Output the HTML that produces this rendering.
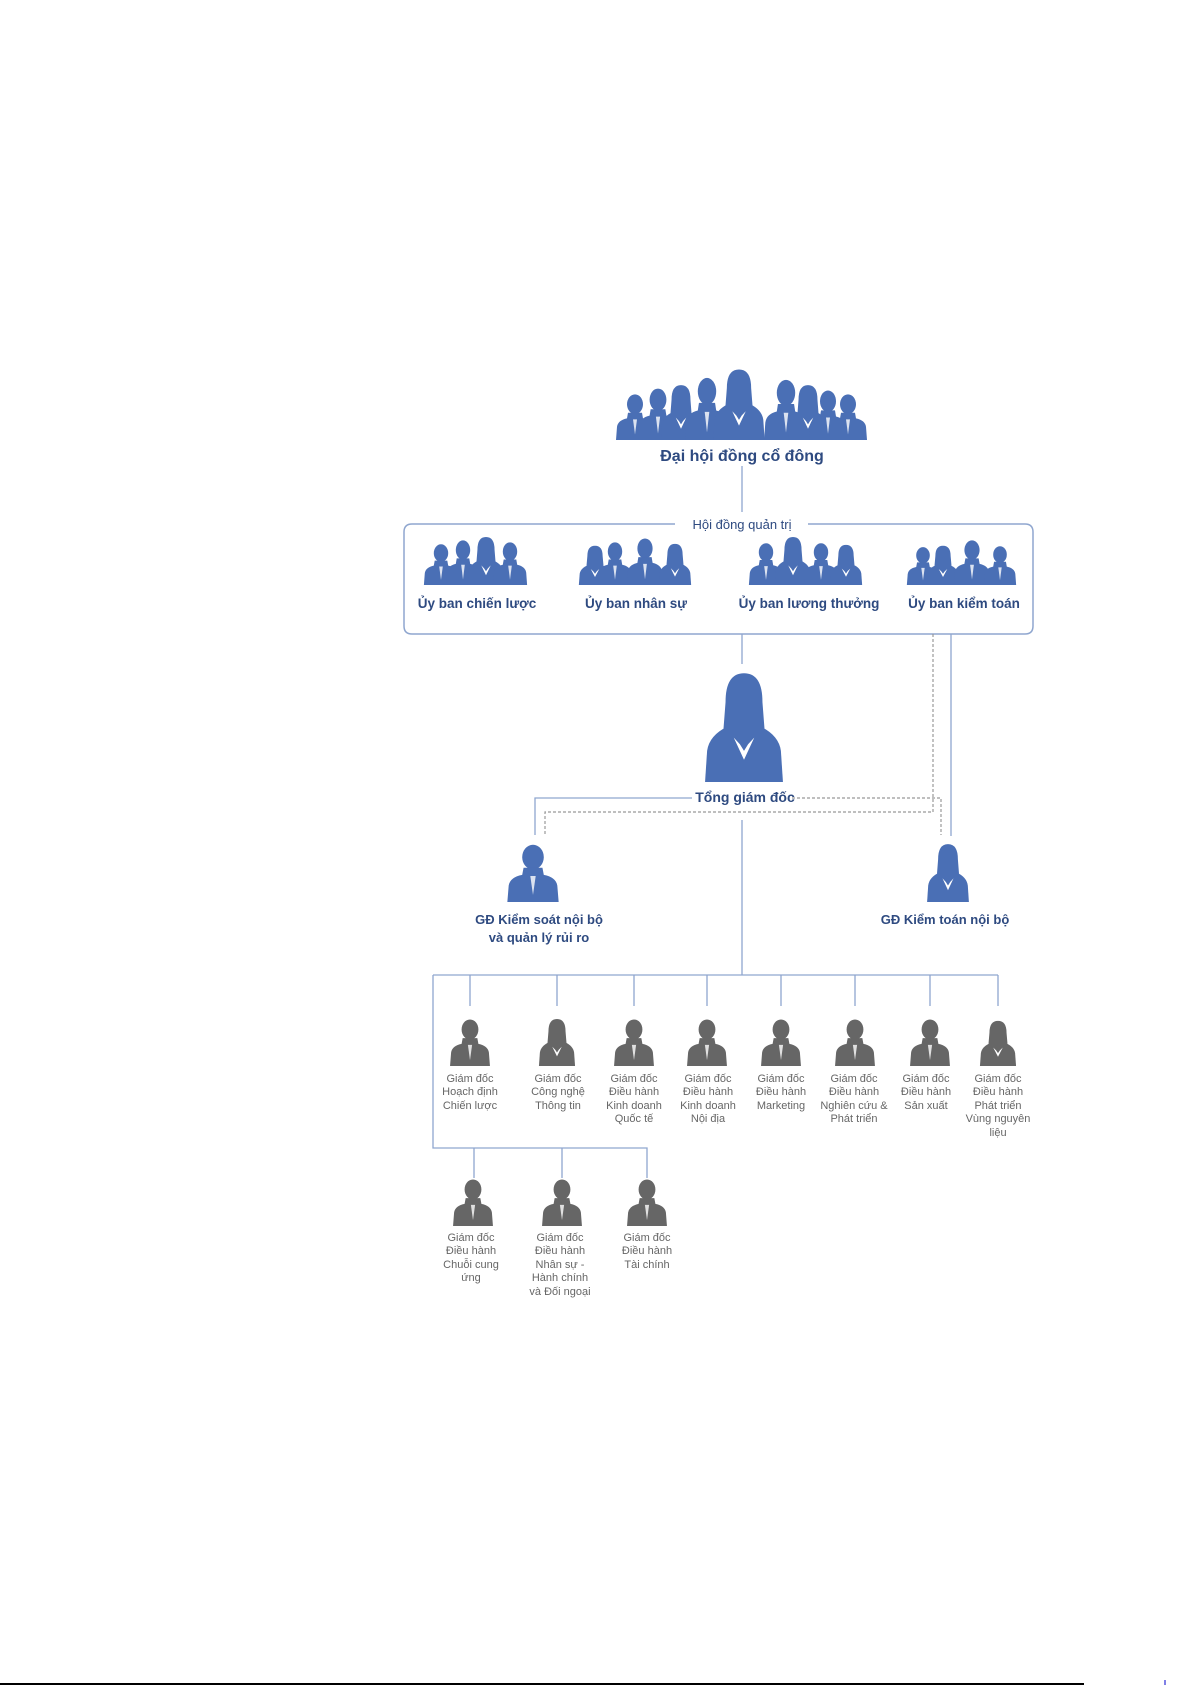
<!DOCTYPE html>
<html><head><meta charset="utf-8"><style>
html,body{margin:0;padding:0;background:#fff}
svg{display:block}
.b{font-family:"Liberation Sans",sans-serif;font-weight:bold;fill:#2e4a80;text-anchor:middle}
.g{font-family:"Liberation Sans",sans-serif;fill:#666;font-size:11px;text-anchor:middle}
</style></head><body>
<svg width="1192" height="1685" viewBox="0 0 1192 1685" xmlns="http://www.w3.org/2000/svg">
<defs>
<symbol id="m" viewBox="0 0 40 50" overflow="visible" preserveAspectRatio="none">
<ellipse cx="20" cy="12" rx="8" ry="10.5"/>
<path d="M13 21 L27 21 L28 27 Q37 29 38 36 L39 50 L1 50 L2 36 Q3 29 12 27 Z"/>
<path d="M18 28 L20 44 L22 28 Z" fill="#fff" opacity="0.8"/>
</symbol>
<symbol id="f" viewBox="0 0 40 50" overflow="visible" preserveAspectRatio="none">
<path d="M20 1 Q29 1 29 14 L30 26 L10 26 L11 14 Q11 1 20 1 Z"/>
<path d="M12 25 L28 25 Q37 29 38 36 L39 50 L1 50 L2 36 Q3 29 12 25 Z"/>
<path d="M15 30 L20 40 L25 30 L22 33 L20 36 L18 33 Z" fill="#fff"/>
</symbol>
</defs>

<g fill="#4a6fb5">
<use href="#m" x="615" y="393" width="40" height="47"/>
<use href="#m" x="637" y="387" width="42" height="53"/>
<use href="#f" x="660" y="384" width="42" height="56"/>
<use href="#m" x="684" y="376" width="46" height="64"/>
<use href="#m" x="763" y="378" width="46" height="62"/>
<use href="#f" x="787" y="384" width="42" height="56"/>
<use href="#m" x="808" y="389" width="40" height="51"/>
<use href="#m" x="828" y="393" width="40" height="47"/>
<use href="#f" x="712" y="368" width="54" height="72"/>
</g>
<text class="b" x="742" y="461" font-size="16">Đại hội đồng cổ đông</text>
<line x1="742" y1="466" x2="742" y2="512" stroke="#8fa6cf" stroke-width="1.3"/>

<path d="M675 524 L412 524 Q404 524 404 532 L404 626 Q404 634 412 634 L1025 634 Q1033 634 1033 626 L1033 532 Q1033 524 1025 524 L808 524" fill="none" stroke="#8fa6cf" stroke-width="1.5"/>
<text class="b" x="742" y="529" font-size="13" style="font-weight:normal">Hội đồng quản trị</text>

<g fill="#4a6fb5">
<use href="#m" x="423" y="543" width="36" height="42"/>
<use href="#m" x="445" y="539" width="36" height="46"/>
<use href="#f" x="467" y="536" width="38" height="49"/>
<use href="#m" x="492" y="541" width="36" height="44"/>
<use href="#f" x="578" y="545" width="34" height="40"/>
<use href="#m" x="597" y="541" width="36" height="44"/>
<use href="#m" x="626" y="537" width="38" height="48"/>
<use href="#f" x="658" y="543" width="34" height="42"/>
<use href="#m" x="748" y="542" width="36" height="43"/>
<use href="#f" x="774" y="536" width="38" height="49"/>
<use href="#m" x="803" y="542" width="36" height="43"/>
<use href="#f" x="829" y="544" width="34" height="41"/>
<use href="#m" x="906" y="546" width="34" height="39"/>
<use href="#f" x="926" y="545" width="34" height="40"/>
<use href="#m" x="953" y="539" width="38" height="46"/>
<use href="#m" x="983" y="545" width="34" height="40"/>
</g>
<g class="b" font-size="13.5">
<text x="477" y="608">Ủy ban chiến lược</text>
<text x="636" y="608">Ủy ban nhân sự</text>
<text x="809" y="608">Ủy ban lương thưởng</text>
<text x="964" y="608">Ủy ban kiểm toán</text>
</g>

<line x1="742" y1="634" x2="742" y2="664" stroke="#8fa6cf" stroke-width="1.3"/>
<use href="#f" x="703" y="671" width="82" height="111" fill="#4a6fb5"/>
<text class="b" x="745" y="802" font-size="14">Tổng giám đốc</text>

<g fill="none" stroke="#8fa6cf" stroke-width="1.3">
<polyline points="692,798 535,798 535,835"/>
<line x1="951" y1="634" x2="951" y2="836"/>
<line x1="742" y1="820" x2="742" y2="975"/>
<polyline points="433,975 998,975"/>
<line x1="470" y1="975" x2="470" y2="1006"/>
<line x1="557" y1="975" x2="557" y2="1006"/>
<line x1="634" y1="975" x2="634" y2="1006"/>
<line x1="707" y1="975" x2="707" y2="1006"/>
<line x1="781" y1="975" x2="781" y2="1006"/>
<line x1="855" y1="975" x2="855" y2="1006"/>
<line x1="930" y1="975" x2="930" y2="1006"/>
<line x1="998" y1="975" x2="998" y2="1006"/>
<polyline points="433,975 433,1148 647,1148 647,1178"/>
<line x1="474" y1="1148" x2="474" y2="1178"/>
<line x1="562" y1="1148" x2="562" y2="1178"/>
</g>
<g fill="none" stroke="#999" stroke-width="1.2" stroke-dasharray="3,2">
<polyline points="933,634 933,812 545,812 545,834"/>
<polyline points="792,798 941,798 941,835"/>
</g>

<use href="#m" x="506" y="843" width="54" height="59" fill="#4a6fb5"/>
<use href="#f" x="926" y="843" width="44" height="59" fill="#4a6fb5"/>
<text class="b" x="539" y="924" font-size="13">GĐ Kiểm soát nội bộ</text>
<text class="b" x="539" y="942" font-size="13">và quản lý rủi ro</text>
<text class="b" x="945" y="924" font-size="13">GĐ Kiểm toán nội bộ</text>

<g fill="#666">
<use href="#m" x="449" y="1018" width="42" height="48"/>
<use href="#f" x="538" y="1018" width="38" height="48"/>
<use href="#m" x="613" y="1018" width="42" height="48"/>
<use href="#m" x="686" y="1018" width="42" height="48"/>
<use href="#m" x="760" y="1018" width="42" height="48"/>
<use href="#m" x="834" y="1018" width="42" height="48"/>
<use href="#m" x="909" y="1018" width="42" height="48"/>
<use href="#f" x="979" y="1020" width="38" height="46"/>
<use href="#m" x="452" y="1178" width="42" height="48"/>
<use href="#m" x="541" y="1178" width="42" height="48"/>
<use href="#m" x="626" y="1178" width="42" height="48"/>
</g>
<g class="g">
<text x="470" y="1082">Giám đốc</text><text x="470" y="1095">Hoạch định</text><text x="470" y="1109">Chiến lược</text>
<text x="558" y="1082">Giám đốc</text><text x="558" y="1095">Công nghệ</text><text x="558" y="1109">Thông tin</text>
<text x="634" y="1082">Giám đốc</text><text x="634" y="1095">Điều hành</text><text x="634" y="1109">Kinh doanh</text><text x="634" y="1122">Quốc tế</text>
<text x="708" y="1082">Giám đốc</text><text x="708" y="1095">Điều hành</text><text x="708" y="1109">Kinh doanh</text><text x="708" y="1122">Nội địa</text>
<text x="781" y="1082">Giám đốc</text><text x="781" y="1095">Điều hành</text><text x="781" y="1109">Marketing</text>
<text x="854" y="1082">Giám đốc</text><text x="854" y="1095">Điều hành</text><text x="854" y="1109">Nghiên cứu &amp;</text><text x="854" y="1122">Phát triển</text>
<text x="926" y="1082">Giám đốc</text><text x="926" y="1095">Điều hành</text><text x="926" y="1109">Sản xuất</text>
<text x="998" y="1082">Giám đốc</text><text x="998" y="1095">Điều hành</text><text x="998" y="1109">Phát triển</text><text x="998" y="1122">Vùng nguyên</text><text x="998" y="1136">liệu</text>
<text x="471" y="1241">Giám đốc</text><text x="471" y="1254">Điều hành</text><text x="471" y="1268">Chuỗi cung</text><text x="471" y="1281">ứng</text>
<text x="560" y="1241">Giám đốc</text><text x="560" y="1254">Điều hành</text><text x="560" y="1268">Nhân sự -</text><text x="560" y="1281">Hành chính</text><text x="560" y="1295">và Đối ngoại</text>
<text x="647" y="1241">Giám đốc</text><text x="647" y="1254">Điều hành</text><text x="647" y="1268">Tài chính</text>
</g>

<line x1="0" y1="1684" x2="1084" y2="1684" stroke="#000" stroke-width="2"/>
<line x1="1165" y1="1680" x2="1165" y2="1685" stroke="#00c" stroke-width="1"/>
</svg>
</body></html>
